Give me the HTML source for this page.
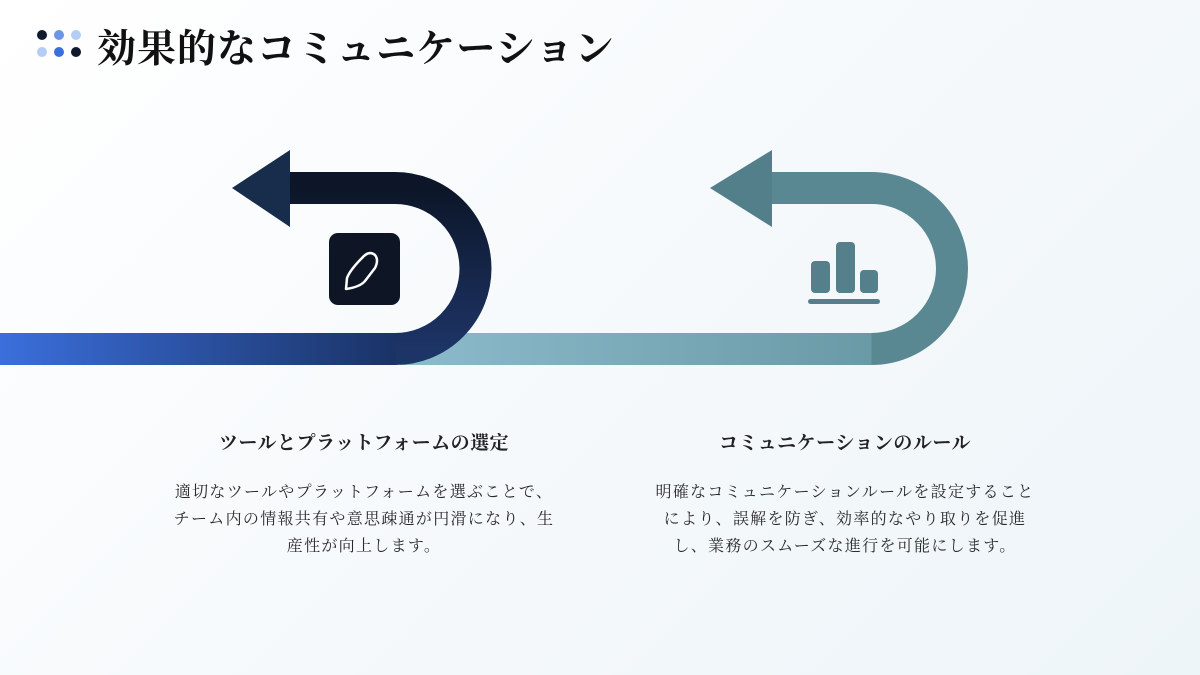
<!DOCTYPE html>
<html><head><meta charset="utf-8"><style>
body{margin:0;width:1200px;height:675px;overflow:hidden;background:linear-gradient(135deg,#ffffff 0%,#f4f8fb 60%,#eef5f9 100%);font-family:"Liberation Serif","Noto Serif CJK SC",serif;position:relative}
.t{position:absolute;left:97px;top:18px;font-size:39px;font-weight:700;color:#111;letter-spacing:1px;white-space:nowrap}
.h{position:absolute;font-size:19px;font-weight:700;color:#222;text-align:center;width:500px;letter-spacing:0.5px}
.p{position:absolute;font-size:16px;color:#2a2a2a;text-align:center;width:500px;line-height:27px;letter-spacing:1.3px}
</style></head><body>
<svg width="1200" height="675" style="position:absolute;left:0;top:0">
<defs>
<linearGradient id="b1" x1="0" x2="1"><stop offset="0" stop-color="#3b6fdc"/><stop offset="1" stop-color="#1a3366"/></linearGradient>
<linearGradient id="c1" x1="0" y1="1" x2="0" y2="0"><stop offset="0" stop-color="#1d3466"/><stop offset="1" stop-color="#0c1628"/></linearGradient>
<linearGradient id="b2" x1="0" x2="1"><stop offset="0" stop-color="#8cbccc"/><stop offset="1" stop-color="#6a9aa6"/></linearGradient>
</defs>
<circle cx="42" cy="35" r="5" fill="#0f1a2e"/><circle cx="59" cy="35" r="5" fill="#6b95e8"/><circle cx="76" cy="35" r="5" fill="#b3cdf5"/>
<circle cx="42" cy="52" r="5" fill="#b3cdf5"/><circle cx="59" cy="52" r="5" fill="#3b6fdc"/><circle cx="76" cy="52" r="5" fill="#0f1a2e"/>
<rect x="400" y="333" width="472" height="32" fill="url(#b2)"/>
<path d="M871.5 349 A80.5 80.5 0 0 0 871.5 188 L772 188" fill="none" stroke="#5a8892" stroke-width="32"/>
<polygon points="772,150 772,227 710,188" fill="#527f8a"/>
<rect x="811" y="261" width="19" height="32" rx="4" fill="#55808b"/>
<rect x="836" y="242" width="19" height="51" rx="4" fill="#55808b"/>
<rect x="860" y="270" width="18" height="23" rx="4" fill="#55808b"/>
<rect x="808" y="299" width="72" height="5" rx="2.5" fill="#55808b"/>
<rect x="0" y="333" width="396" height="32" fill="url(#b1)"/>
<path d="M395 349 A80.5 80.5 0 0 0 395 188 L290 188" fill="none" stroke="url(#c1)" stroke-width="32"/>
<polygon points="290,150 290,227 232,188" fill="#182c4c"/>
<rect x="329" y="233" width="71" height="72" rx="9" fill="#0e1626"/>
<path d="M346 289 L347 278 Q350 270 362 258 Q369 250 375 255 Q379 260 375 268 L365 281 Q360 287 346 289 Z" fill="none" stroke="#fff" stroke-width="2.5" stroke-linejoin="round"/>
</svg>
<div class="t">効果的なコミュニケーション</div>
<div class="h" style="left:114px;top:428px">ツールとプラットフォームの選定</div>
<div class="p" style="left:114px;top:479px">適切なツールやプラットフォームを選ぶことで、<br>チーム内の情報共有や意思疎通が円滑になり、生<br>産性が向上します。</div>
<div class="h" style="left:595px;top:428px">コミュニケーションのルール</div>
<div class="p" style="left:595px;top:479px">明確なコミュニケーションルールを設定すること<br>により、誤解を防ぎ、効率的なやり取りを促進<br>し、業務のスムーズな進行を可能にします。</div>
</body></html>
